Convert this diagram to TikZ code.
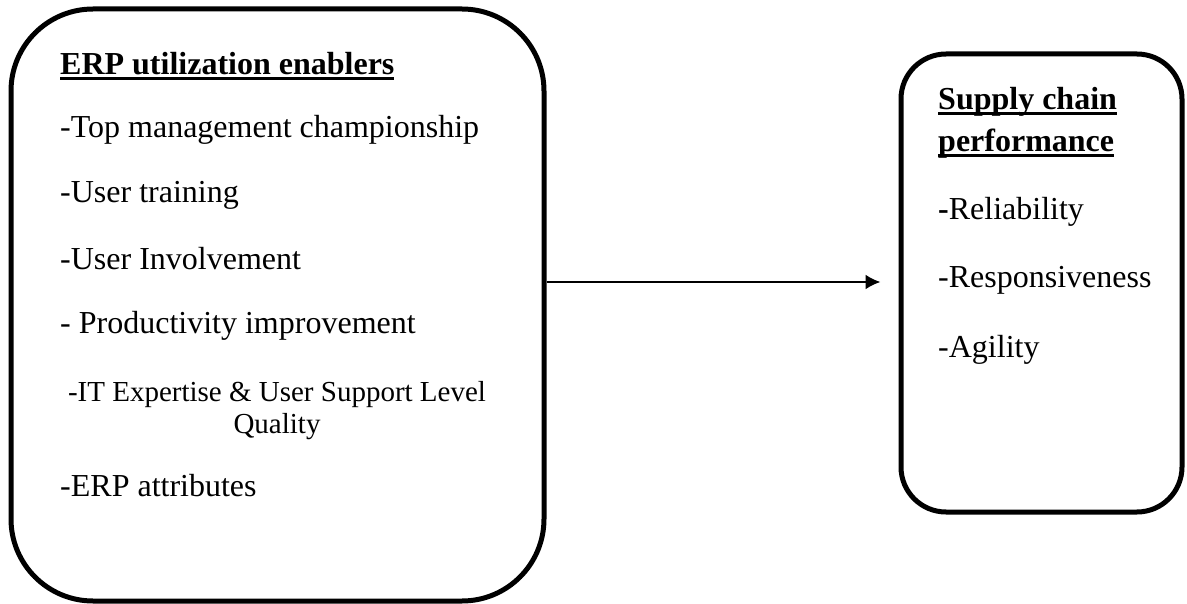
\documentclass[tikz,border=0pt]{standalone}
\usepackage{fontspec}
\setmainfont{Liberation Serif}
\usetikzlibrary{arrows.meta,positioning}

\newsavebox{\ulbox}
\newcommand{\ulbold}[1]{\sbox{\ulbox}{\bfseries #1}\rlap{\rule[-4.6pt]{\wd\ulbox}{2.6pt}}\usebox{\ulbox}}
\newcommand{\bodysize}{\fontsize{32}{38}\selectfont}
\newcommand{\smallsize}{\fontsize{29}{33}\selectfont}

\tikzset{
  panel/.style={draw, line width=5pt, inner sep=0pt},
  item/.style={anchor=base west, inner sep=0pt, font=\bodysize},
  centreitem/.style={anchor=base, inner sep=0pt, font=\smallsize},
}

\begin{document}
\begin{tikzpicture}[x=1pt,y=-1pt]
		\useasboundingbox (0,0) rectangle (1187,604);

		% the two boxes
		\node[panel, rounded corners=82pt, minimum width=533pt, minimum height=592pt] (erp) at (277.5,305) {};
		\node[panel, rounded corners=45pt, minimum width=281pt, minimum height=458pt] (scp) at (1041.5,283) {};

		% left box
		\node[item] (erptitle) at (60,75) {\ulbold{ERP utilization enablers}};
		\node[item] (top) at (60,138) {-Top management championship};
		\node[item] (train) at (60,203) {-User training};
		\node[item] (involve) at (60,270) {-User Involvement};
		\node[item] (prod) at (60,334) {- Productivity improvement};
		\node[centreitem] (itexp) at (277,401) {-IT Expertise \& User Support Level};
		\node[centreitem] (quality) at (277,433) {Quality};
		\node[item] (attr) at (60,496) {-ERP attributes};

		% right box
		\node[item] (sctitle) at (938,110) {\ulbold{Supply chain}};
		\node[item] (sctitlet) at (938,152) {\ulbold{performance}};
		\node[item] (reliab) at (938,220) {\textbf{-}Reliability};
		\node[item] (respons) at (938,288) {-Responsiveness};
		\node[item] (agile) at (938,357) {-Agility};

		\draw[line width=2.3pt, -{Latex[length=15pt,width=15pt]}] (erp.east |- 0,282) -- ([xshift=-18pt,yshift=1pt]scp.west);
	\end{tikzpicture}
\end{document}
